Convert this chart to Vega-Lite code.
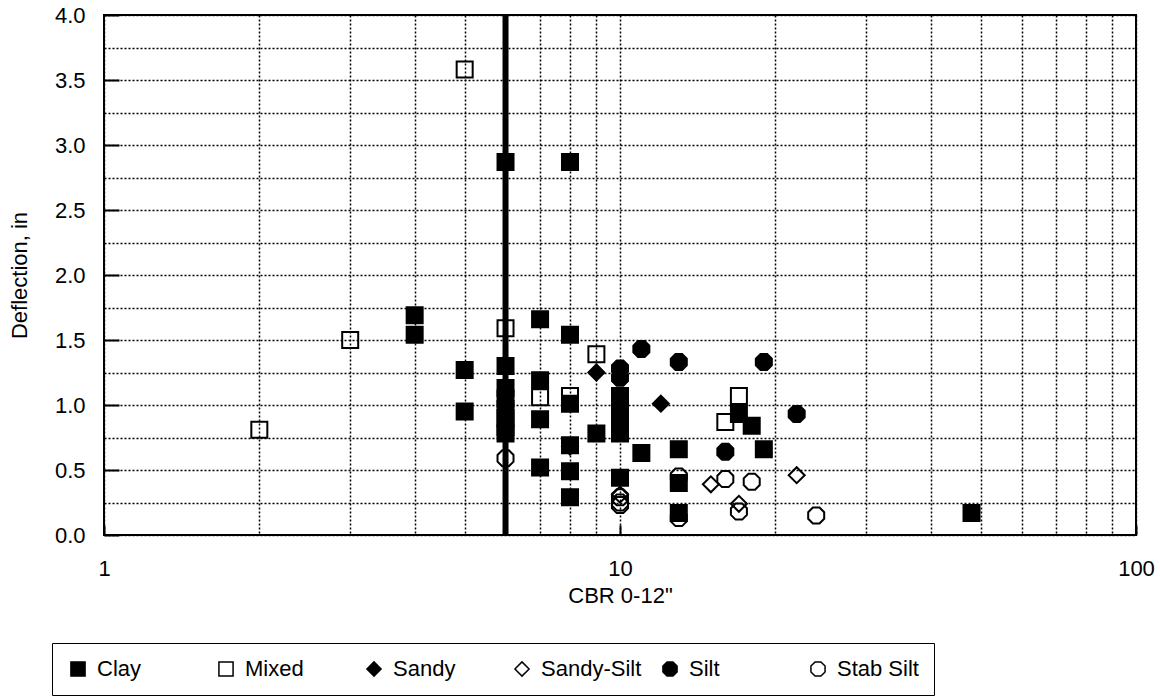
{
  "$schema": "https://vega.github.io/schema/vega-lite/v6.json",
  "width": 1032,
  "height": 520,
  "autosize": {"type": "none"},
  "padding": {"left": 104, "top": 15, "right": 24, "bottom": 165},
  "background": "white",
  "config": {
    "view": {"stroke": "black", "strokeWidth": 2},
    "font": "Liberation Sans"
  },
  "layer": [
    {
      "data": {
        "values": [
          {"soil": "Clay", "cbr": 6, "defl": 2.87},
          {"soil": "Clay", "cbr": 8, "defl": 2.87},
          {"soil": "Clay", "cbr": 4, "defl": 1.69},
          {"soil": "Clay", "cbr": 4, "defl": 1.54},
          {"soil": "Clay", "cbr": 5, "defl": 1.27},
          {"soil": "Clay", "cbr": 5, "defl": 0.95},
          {"soil": "Clay", "cbr": 6, "defl": 1.3},
          {"soil": "Clay", "cbr": 6, "defl": 1.13},
          {"soil": "Clay", "cbr": 6, "defl": 1.05},
          {"soil": "Clay", "cbr": 6, "defl": 0.97},
          {"soil": "Clay", "cbr": 6, "defl": 0.9},
          {"soil": "Clay", "cbr": 6, "defl": 0.83},
          {"soil": "Clay", "cbr": 6, "defl": 0.78},
          {"soil": "Clay", "cbr": 7, "defl": 1.66},
          {"soil": "Clay", "cbr": 7, "defl": 1.19},
          {"soil": "Clay", "cbr": 7, "defl": 0.89},
          {"soil": "Clay", "cbr": 7, "defl": 0.52},
          {"soil": "Clay", "cbr": 8, "defl": 1.54},
          {"soil": "Clay", "cbr": 8, "defl": 1.01},
          {"soil": "Clay", "cbr": 8, "defl": 0.69},
          {"soil": "Clay", "cbr": 8, "defl": 0.49},
          {"soil": "Clay", "cbr": 8, "defl": 0.29},
          {"soil": "Clay", "cbr": 9, "defl": 0.78},
          {"soil": "Clay", "cbr": 10, "defl": 1.07},
          {"soil": "Clay", "cbr": 10, "defl": 1.0},
          {"soil": "Clay", "cbr": 10, "defl": 0.93},
          {"soil": "Clay", "cbr": 10, "defl": 0.85},
          {"soil": "Clay", "cbr": 10, "defl": 0.78},
          {"soil": "Clay", "cbr": 10, "defl": 0.44},
          {"soil": "Clay", "cbr": 11, "defl": 0.63},
          {"soil": "Clay", "cbr": 13, "defl": 0.66},
          {"soil": "Clay", "cbr": 13, "defl": 0.4},
          {"soil": "Clay", "cbr": 13, "defl": 0.17},
          {"soil": "Clay", "cbr": 17, "defl": 0.93},
          {"soil": "Clay", "cbr": 18, "defl": 0.84},
          {"soil": "Clay", "cbr": 19, "defl": 0.66},
          {"soil": "Clay", "cbr": 48, "defl": 0.17},
          {"soil": "Mixed", "cbr": 5, "defl": 3.58},
          {"soil": "Mixed", "cbr": 3, "defl": 1.5},
          {"soil": "Mixed", "cbr": 2, "defl": 0.81},
          {"soil": "Mixed", "cbr": 6, "defl": 1.59},
          {"soil": "Mixed", "cbr": 9, "defl": 1.39},
          {"soil": "Mixed", "cbr": 8, "defl": 1.07},
          {"soil": "Mixed", "cbr": 7, "defl": 1.06},
          {"soil": "Mixed", "cbr": 16, "defl": 0.87},
          {"soil": "Mixed", "cbr": 17, "defl": 1.07},
          {"soil": "Sandy", "cbr": 9, "defl": 1.25},
          {"soil": "Sandy", "cbr": 12, "defl": 1.01},
          {"soil": "Sandy", "cbr": 8, "defl": 0.68},
          {"soil": "Sandy-Silt", "cbr": 15, "defl": 0.39},
          {"soil": "Sandy-Silt", "cbr": 17, "defl": 0.24},
          {"soil": "Sandy-Silt", "cbr": 22, "defl": 0.46},
          {"soil": "Sandy-Silt", "cbr": 10, "defl": 0.31},
          {"soil": "Silt", "cbr": 11, "defl": 1.43},
          {"soil": "Silt", "cbr": 13, "defl": 1.33},
          {"soil": "Silt", "cbr": 19, "defl": 1.33},
          {"soil": "Silt", "cbr": 10, "defl": 1.28},
          {"soil": "Silt", "cbr": 10, "defl": 1.21},
          {"soil": "Silt", "cbr": 22, "defl": 0.93},
          {"soil": "Silt", "cbr": 16, "defl": 0.64},
          {"soil": "Stab Silt", "cbr": 6, "defl": 0.59},
          {"soil": "Stab Silt", "cbr": 10, "defl": 0.29},
          {"soil": "Stab Silt", "cbr": 10, "defl": 0.25},
          {"soil": "Stab Silt", "cbr": 10, "defl": 0.23},
          {"soil": "Stab Silt", "cbr": 13, "defl": 0.45},
          {"soil": "Stab Silt", "cbr": 13, "defl": 0.13},
          {"soil": "Stab Silt", "cbr": 16, "defl": 0.43},
          {"soil": "Stab Silt", "cbr": 18, "defl": 0.41},
          {"soil": "Stab Silt", "cbr": 17, "defl": 0.18},
          {"soil": "Stab Silt", "cbr": 24, "defl": 0.15}
        ]
      },
      "mark": {"type": "point", "strokeWidth": 2, "opacity": 1, "size": 256},
      "encoding": {
        "x": {
          "field": "cbr",
          "type": "quantitative",
          "scale": {"type": "log", "domain": [1, 100], "nice": false},
          "axis": {
            "title": "CBR 0-12\"",
            "values": [1, 2, 3, 4, 5, 6, 7, 8, 9, 10, 20, 30, 40, 50, 60, 70, 80, 90, 100],
            "labelExpr": "indexof([1, 10, 100], datum.value) >= 0 ? '' + datum.value : ''",
            "labelOverlap": false,
            "labelFlush": false,
            "domain": false,
            "grid": true,
            "gridColor": "black",
            "gridDash": [2, 2],
            "gridWidth": 1.5,
            "gridOpacity": 1,
            "tickSize": -10,
            "tickWidth": 2,
            "tickColor": "black",
            "tickOpacity": {"condition": {"test": "indexof([1, 10, 100], datum.value) < 0", "value": 0}, "value": 1},
            "labelPadding": 33,
            "labelFontSize": 22,
            "labelColor": "black",
            "titleFontSize": 22,
            "titleFontWeight": "normal",
            "titleColor": "black",
            "titlePadding": 6
          }
        },
        "y": {
          "field": "defl",
          "type": "quantitative",
          "scale": {"domain": [0, 4], "nice": false, "zero": true},
          "axis": {
            "title": "Deflection, in",
            "values": [0, 0.25, 0.5, 0.75, 1, 1.25, 1.5, 1.75, 2, 2.25, 2.5, 2.75, 3, 3.25, 3.5, 3.75, 4],
            "labelExpr": "datum.value % 0.5 === 0 ? format(datum.value, '.1f') : ''",
            "labelOverlap": false,
            "labelFlush": false,
            "domain": false,
            "grid": true,
            "gridColor": "black",
            "gridDash": [2, 2],
            "gridWidth": 1.5,
            "gridOpacity": 1,
            "tickSize": -15,
            "tickWidth": 2,
            "tickColor": "black",
            "tickOpacity": {"condition": {"test": "datum.value % 0.5 !== 0", "value": 0}, "value": 1},
            "labelPadding": 34,
            "labelFontSize": 22,
            "labelColor": "black",
            "titleFontSize": 22,
            "titleFontWeight": "normal",
            "titleColor": "black",
            "titlePadding": 23
          }
        },
        "stroke": {
          "field": "soil",
          "type": "nominal",
          "scale": {
            "domain": ["Clay", "Mixed", "Sandy", "Sandy-Silt", "Silt", "Stab Silt"],
            "range": ["black", "black", "black", "black", "black", "black"]
          }
        },
        "shape": {
          "field": "soil",
          "type": "nominal",
          "scale": {
            "domain": ["Clay", "Mixed", "Sandy", "Sandy-Silt", "Silt", "Stab Silt"],
            "range": [
              "square",
              "square",
              "diamond",
              "diamond",
              "M-0.414,-1L0.414,-1L1,-0.414L1,0.414L0.414,1L-0.414,1L-1,0.414L-1,-0.414Z",
              "M-0.414,-1L0.414,-1L1,-0.414L1,0.414L0.414,1L-0.414,1L-1,0.414L-1,-0.414Z"
            ]
          },
          "legend": {
            "orient": "none",
            "legendX": -52,
            "legendY": 628,
            "direction": "horizontal",
            "columns": 6,
            "title": null,
            "gridAlign": "all",
            "columnPadding": 17,
            "padding": 15,
            "strokeColor": "black",
            "fillColor": "white",
            "labelFontSize": 22,
            "labelColor": "black",
            "labelOffset": 8,
            "symbolSize": 200,
            "symbolStrokeWidth": 1.5,
            "symbolOpacity": 1,
            "encode": {
              "legend": {"update": {"strokeWidth": {"value": 2}}}
            }
          }
        },
        "fill": {
          "field": "soil",
          "type": "nominal",
          "scale": {
            "domain": ["Clay", "Mixed", "Sandy", "Sandy-Silt", "Silt", "Stab Silt"],
            "range": ["black", "transparent", "black", "transparent", "black", "transparent"]
          }
        }
      }
    },
    {
      "data": {"values": [{"cbr": 6}]},
      "mark": {"type": "rule", "color": "black", "strokeWidth": 6},
      "encoding": {
        "x": {"field": "cbr", "type": "quantitative"}
      }
    }
  ]
}
